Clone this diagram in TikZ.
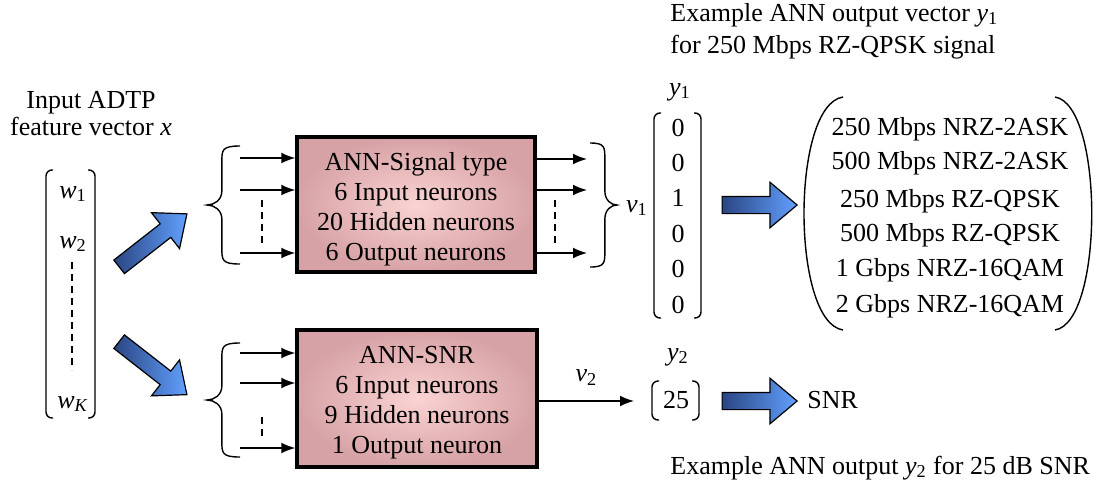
\documentclass[tikz,border=0pt]{standalone}
\usepackage{fontspec}
\setmainfont{Liberation Serif}
\usetikzlibrary{arrows.meta,shapes.arrows}

\tikzset{>={Latex[length=7pt,width=5.4pt]}}
\definecolor{pinkin}{HTML}{FAD3D3}
\definecolor{pinkout}{HTML}{D7A2A5}
\definecolor{bluedk}{HTML}{2A4682}
\definecolor{bluelt}{HTML}{62A0FF}
\tikzstyle{lbl}=[inner sep=0,text height=9pt,text depth=3pt]
\tikzstyle{annbox}=[draw,line width=1.7pt,inner color=pinkin,outer color=pinkout,align=center,inner sep=0]
\tikzstyle{conn}=[->,line width=0.7pt]
\tikzstyle{brk}=[line width=0.7pt]
\tikzstyle{vdash}=[line width=0.7pt,dash pattern=on 3.5pt off 2.5pt]
\tikzstyle{fat}=[shape=single arrow,draw,line width=0.6pt,minimum height=37.5pt,minimum width=17pt,
  inner xsep=0pt,inner ysep=4pt,single arrow tip angle=80,single arrow head indent=0pt,
  left color=bluedk,right color=bluelt]
\newcommand\vv[2]{\textit{#1}\textsubscript{#2}}
\def\sqL#1#2#3{\draw[brk,rounded corners=3pt] (#1+7,#2) -- (#1,#2) -- (#1,#3) -- (#1+7,#3);}
\def\sqR#1#2#3{\draw[brk,rounded corners=3pt] (#1-7,#2) -- (#1,#2) -- (#1,#3) -- (#1-7,#3);}
\newcommand\curly[4]{% ends x, top y, bottom y, tip offset (neg = left)
  \pgfmathsetmacro\ym{(#2+#3)/2}
  \pgfmathsetmacro\xv{#1+0.55*(#4)}
  \pgfmathsetmacro\xq{#1+0.78*(#4)}
  \pgfmathsetmacro\xt{#1+(#4)}
  \draw[brk] (#1,#2) .. controls (\xv,#2) and (\xv,#2+4) .. (\xv,#2+16) -- (\xv,\ym-14)
    .. controls (\xv,\ym-5) and (\xq,\ym) .. (\xt,\ym)
    .. controls (\xq,\ym) and (\xv,\ym+5) .. (\xv,\ym+14) -- (\xv,#3-16)
    .. controls (\xv,#3-4) and (\xv,#3) .. (#1,#3);}

\begin{document}
\begin{tikzpicture}[x=0.5pt,y=-0.5pt,font=\fontsize{13}{15}\selectfont]
  \useasboundingbox (0,0) rectangle (1094,484);

  % INPUT VECTOR
  \node[lbl] (xt1) at (91,102) {Input ADTP};
  \node[lbl] (xt2) at (91,129) {feature vector \textit{x}};
  \sqL{46}{170}{418} \sqR{95}{170}{418}
  \node[lbl] (w1) at (73,192) {\vv{w}{1}};
  \node[lbl] (w2) at (73,242) {\vv{w}{2}};
  \node[lbl] (wK) at (73,402) {\vv{w}{\textit{K}}};
  \draw[vdash] (72,262) -- (72,370);
  \node[fat,minimum height=43pt,rotate=38] (upar) at (149,243.5) {};
  \node[fat,minimum height=43pt,rotate=-38] (dnar) at (149,365) {};

  % ANN BOXES
  \node[annbox,minimum width=119pt,minimum height=67.5pt] (sigbox) at (416,204.5)
    {\rule{0pt}{13.5pt}ANN-Signal type\\6 Input neurons\\20 Hidden neurons\\6 Output neurons};
  \node[annbox,minimum width=120pt,minimum height=68.5pt] (snrbox) at (417,398.5)
    {\rule{0pt}{12.5pt}ANN-SNR\\6 Input neurons\\9 Hidden neurons\\1 Output neuron};

  % INPUT ARROWS
  \curly{240}{146}{264}{-33}
  \curly{240}{343}{457}{-33}
  \foreach \y [count=\i] in {158,190,253} {
    \coordinate (si\i) at (240,\y);
    \draw[conn] (si\i) -- (si\i -| sigbox.west);
  }
  \foreach \y [count=\i] in {353,383,448} {
    \coordinate (ni\i) at (240,\y);
    \draw[conn] (ni\i) -- (ni\i -| snrbox.west);
  }
  \draw[vdash] (262,200) -- (262,243);
  \draw[vdash] (262,417) -- (262,440);

  % OUTPUT ARROWS
  \foreach \y [count=\i] in {159,190,253} {
    \coordinate (so\i) at (587,\y);
    \draw[conn] (so\i -| sigbox.east) -- (so\i);
  }
  \draw[vdash] (555,200) -- (555,243);
  \curly{590}{143}{267}{27}
  \node[lbl] (v1) at (637,206) {\vv{v}{1}};

  % y1 VECTOR
  \node[lbl] (y1) at (680,89) {\vv{y}{1}};
  \sqL{654}{113}{318} \sqR{701}{113}{318}
  \foreach \v [count=\i] in {0,0,1,0,0,0}
    \node[lbl] (ys\i) at (678,{130+35.4*(\i-1)}) {\v};
  \node[lbl,anchor=west] (ex1) at (670,15) {Example ANN output vector \vv{y}{1}};
  \node[lbl,anchor=west] (ex2) at (670,47) {for 250 Mbps RZ-QPSK signal};
  \node[fat] (rar1) at (754.5,205) {};

  % SIGNAL LIST
  \draw[brk] (843,97) .. controls (791,105) and (791,322) .. (843,330);
  \draw[brk] (1055,97) .. controls (1104,105) and (1104,322) .. (1055,330);
  \foreach \s/\y [count=\i] in {250 Mbps NRZ-2ASK/129,500 Mbps NRZ-2ASK/163,250 Mbps RZ-QPSK/201,
      500 Mbps RZ-QPSK/235,1 Gbps NRZ-16QAM/270,2 Gbps NRZ-16QAM/306}
    \node[lbl] (sig\i) at (950,\y) {\s};

  % SNR OUTPUT
  \coordinate (v2end) at (634,401);
  \draw[conn] (snrbox.east |- v2end) -- (v2end) node[midway,above=4pt] {\vv{v}{2}};
  \node[lbl] (y2) at (678,354) {\vv{y}{2}};
  \sqL{652}{381}{420} \sqR{699}{381}{420}
  \node[lbl] (val25) at (676,402) {25};
  \node[fat] (rar2) at (754.5,401) {};
  \node[lbl,anchor=west] (snr) at (807,402) {SNR};
  \node[lbl,anchor=west] (ex3) at (670,468) {Example ANN output \vv{y}{2} for 25 dB SNR};

\end{tikzpicture}
\end{document}
